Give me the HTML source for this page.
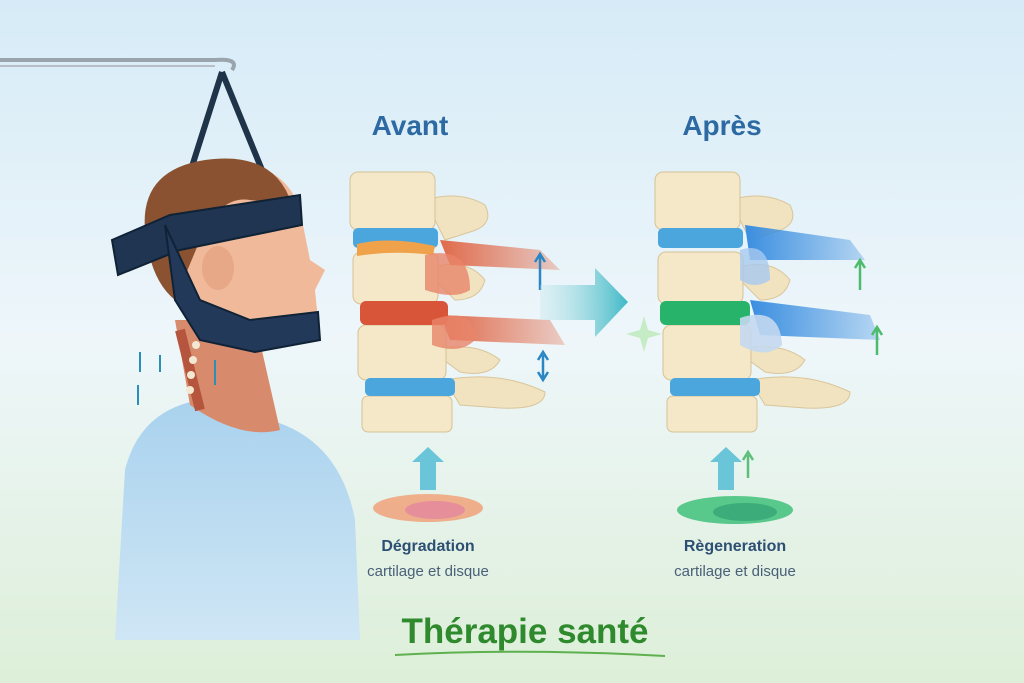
<!DOCTYPE html>
<html><head><meta charset="utf-8"><style>
html,body{margin:0;padding:0;width:1024px;height:683px;overflow:hidden}
svg{display:block}
text{font-family:"Liberation Sans",sans-serif}
</style></head><body>
<svg width="1024" height="683" viewBox="0 0 1024 683" xmlns="http://www.w3.org/2000/svg">
<defs>
<linearGradient id="bg" x1="0" y1="0" x2="0" y2="1">
<stop offset="0" stop-color="#d6ebf7"/><stop offset="0.5" stop-color="#eef6fa"/><stop offset="1" stop-color="#ddefd8"/></linearGradient>
<linearGradient id="arr" x1="0" y1="0" x2="1" y2="0">
<stop offset="0" stop-color="#bfe6ea" stop-opacity="0.3"/><stop offset="1" stop-color="#3fb9c6"/></linearGradient>
<linearGradient id="shirt" x1="0" y1="0" x2="0" y2="1">
<stop offset="0" stop-color="#a9d2ee"/><stop offset="1" stop-color="#cfe6f5"/></linearGradient>
<linearGradient id="red" x1="0" y1="0" x2="1" y2="0">
<stop offset="0" stop-color="#e06a4a"/><stop offset="1" stop-color="#e06a4a" stop-opacity="0.3"/></linearGradient>
<linearGradient id="blu" x1="0" y1="0" x2="1" y2="0">
<stop offset="0" stop-color="#3a8ee0"/><stop offset="1" stop-color="#3a8ee0" stop-opacity="0.3"/></linearGradient>
<g id="spine">
 <path d="M75 200 Q110 190 135 205 Q145 225 120 232 L95 240 Z" fill="#f1e3c0" stroke="#d9c59a"/>
 <path d="M75 270 Q115 255 135 280 Q130 300 105 300 Z" fill="#f1e3c0" stroke="#d9c59a"/>
 <path d="M80 350 Q125 340 150 360 Q140 378 110 372 Z" fill="#f1e3c0" stroke="#d9c59a"/>
 <path d="M95 380 Q150 370 195 392 Q195 410 150 408 L110 405 Z" fill="#f1e3c0" stroke="#d9c59a"/>
 <rect x="0" y="172" width="85" height="58" rx="8" fill="#f4e8c8" stroke="#d6c296"/>
 <rect x="3" y="252" width="85" height="52" rx="8" fill="#f4e8c8" stroke="#d6c296"/>
 <rect x="8" y="325" width="88" height="55" rx="8" fill="#f4e8c8" stroke="#d6c296"/>
 <rect x="12" y="396" width="90" height="36" rx="6" fill="#f4e8c8" stroke="#d6c296"/>
 <rect x="15" y="378" width="90" height="18" rx="5" fill="#4aa6dc"/>
</g>
</defs>
<rect width="1024" height="683" fill="url(#bg)"/>

<path d="M0 60 L215 60 Q240 58 232 70" stroke="#9aa4ad" stroke-width="4" fill="none"/>
<path d="M0 66 L215 66" stroke="#b7bec5" stroke-width="2" fill="none"/>
<path d="M222 72 L175 220 M222 72 L262 170" stroke="#1f3349" stroke-width="6" fill="none"/>

<path d="M115 640 L125 470 Q140 410 200 400 L270 420 Q340 440 355 520 L360 640 Z" fill="url(#shirt)"/>
<path d="M175 320 L255 320 L280 430 Q240 440 190 405 Z" fill="#d88a6c"/>
<path d="M180 330 L200 410" stroke="#b6553e" stroke-width="10"/>
<path d="M160 220 Q150 170 215 160 Q285 160 300 210 L310 260 L325 270 L315 290 L318 320 Q300 345 260 340 L210 330 Q180 310 170 280 Z" fill="#f0b99a"/>
<path d="M145 230 Q140 170 205 160 Q275 150 292 205 L250 200 Q220 195 200 240 L175 300 Q150 280 145 230 Z" fill="#8a5230"/>
<ellipse cx="218" cy="268" rx="16" ry="22" fill="#e7a888"/>
<path d="M112 240 L170 215 L300 195 L302 225 L180 250 L118 275 Z" fill="#1f3551" stroke="#0f2236" stroke-width="2"/>
<path d="M165 225 L200 300 L250 320 L318 312 L320 340 L255 352 L200 340 L175 300 Z" fill="#22395a" stroke="#0f2236" stroke-width="2"/>
<g fill="#f3e8d2"><circle cx="196" cy="345" r="4"/><circle cx="193" cy="360" r="4"/><circle cx="191" cy="375" r="4"/><circle cx="190" cy="390" r="4"/></g>
<g stroke="#2a8fb8" stroke-width="2" fill="none">
<path d="M140 352 V372 M160 355 V372 M138 385 V405 M215 360 V385"/></g>

<text x="410" y="135" font-size="28" font-weight="bold" fill="#2d6aa3" text-anchor="middle">Avant</text>
<text x="722" y="135" font-size="28" font-weight="bold" fill="#2d6aa3" text-anchor="middle">Après</text>

<use href="#spine" x="350"/>
<path d="M440 240 L540 250 L560 270 L450 265 Z" fill="url(#red)"/>
<path d="M440 315 L550 320 L565 345 L450 340 Z" fill="url(#red)"/>
<rect x="353" y="228" width="85" height="20" rx="5" fill="#4aa6dc"/>
<path d="M357 244 Q390 236 435 246 L433 255 Q395 250 357 256 Z" fill="#f0a24a"/>
<rect x="360" y="301" width="88" height="24" rx="6" fill="#d9553a"/>
<path d="M425 255 Q470 245 470 290 Q455 300 425 290 Z" fill="#e9856a" opacity="0.8"/>
<path d="M432 320 Q475 305 475 340 Q460 355 432 345 Z" fill="#e9856a" opacity="0.8"/>
<path d="M540 290 V255 M535 262 L540 254 L545 262 M543 355 V380 M538 360 L543 352 L548 360 M538 372 L543 380 L548 372" stroke="#2a86c4" stroke-width="2.5" fill="none"/>

<path d="M540 285 L595 285 L595 268 L628 302 L595 337 L595 320 L540 320 Z" fill="url(#arr)"/>

<use href="#spine" x="655"/>
<path d="M745 225 L850 240 L865 260 L750 260 Z" fill="url(#blu)"/>
<path d="M750 300 L870 315 L880 340 L760 335 Z" fill="url(#blu)"/>
<rect x="658" y="228" width="85" height="20" rx="5" fill="#4aa6dc"/>
<rect x="660" y="301" width="90" height="24" rx="6" fill="#27b36a"/>
<path d="M740 250 Q770 240 770 280 Q755 290 740 280 Z" fill="#a7c9ef" opacity="0.8"/>
<path d="M740 318 Q780 305 782 345 Q765 360 740 345 Z" fill="#c3d8ef" opacity="0.9"/>
<path d="M860 290 V260 M855 268 L860 260 L865 268 M877 355 V328 M872 335 L877 327 L882 335" stroke="#4cbc6c" stroke-width="2.5" fill="none"/>
<path d="M640 330 l4 -14 l4 14 l14 4 l-14 4 l-4 14 l-4 -14 l-14 -4 z" fill="#c6ecc6"/>

<path d="M420 490 V462 H412 L428 447 L444 462 H436 V490 Z" fill="#5cc0d6" opacity="0.9"/>
<path d="M718 490 V462 H710 L726 447 L742 462 H734 V490 Z" fill="#5cc0d6" opacity="0.9"/>
<path d="M748 478 V455 M743 460 L748 452 L753 460" stroke="#5cc07a" stroke-width="2.5" fill="none"/>
<ellipse cx="428" cy="508" rx="55" ry="14" fill="#f0a27a" opacity="0.85"/>
<ellipse cx="435" cy="510" rx="30" ry="9" fill="#e07aa6" opacity="0.6"/>
<ellipse cx="735" cy="510" rx="58" ry="14" fill="#3fbf7a" opacity="0.85"/>
<ellipse cx="745" cy="512" rx="32" ry="9" fill="#2a9b70" opacity="0.6"/>

<text x="428" y="551" font-size="16" font-weight="bold" fill="#2d4f73" text-anchor="middle">Dégradation</text>
<text x="428" y="576" font-size="15" fill="#4a6078" text-anchor="middle">cartilage et disque</text>
<text x="735" y="551" font-size="16" font-weight="bold" fill="#2d4f73" text-anchor="middle">Règeneration</text>
<text x="735" y="576" font-size="15" fill="#4a6078" text-anchor="middle">cartilage et disque</text>

<text x="525" y="643" font-size="35" font-weight="bold" fill="#2f8a2e" text-anchor="middle">Thérapie santé</text>
<path d="M395 655 Q525 648 665 656" stroke="#5fb04f" stroke-width="2" fill="none"/>
</svg>
</body></html>
